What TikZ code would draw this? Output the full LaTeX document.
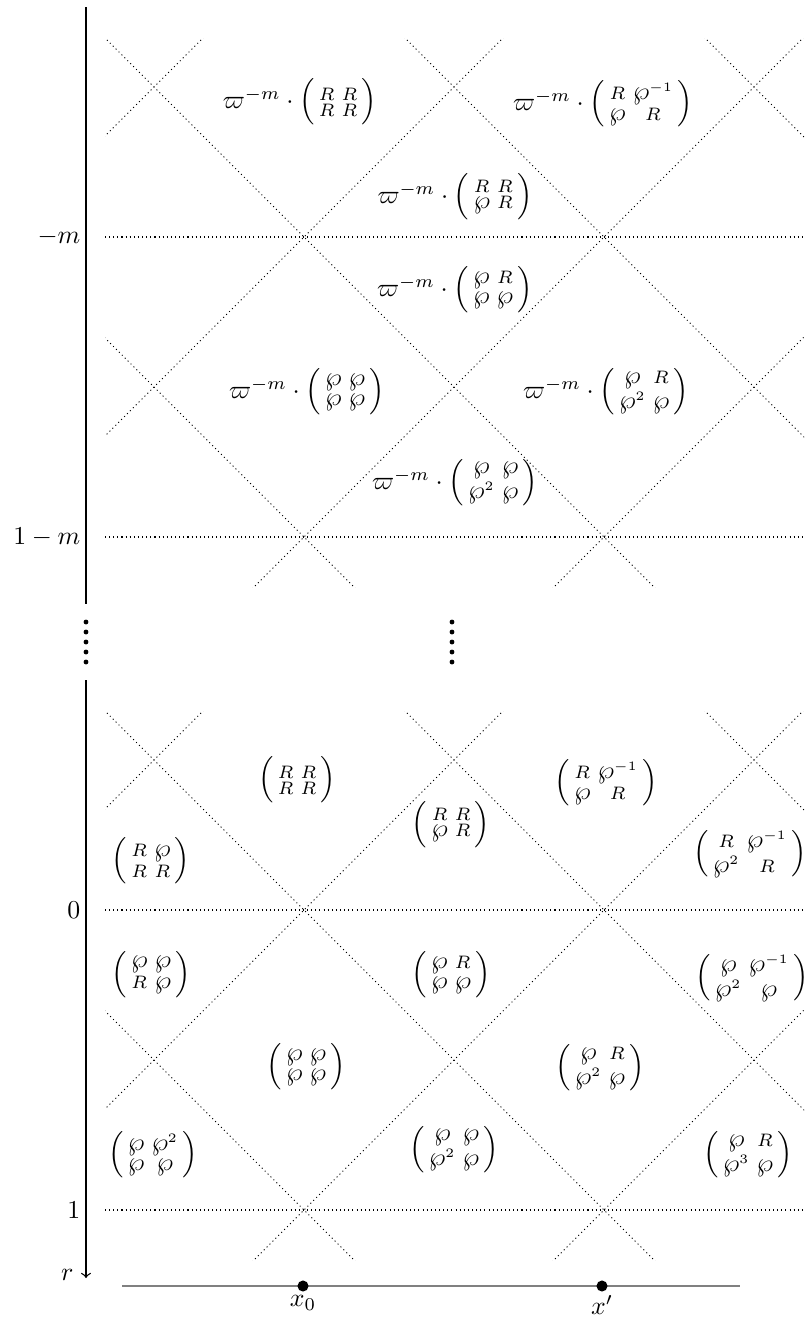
\documentclass[tikz,border=0pt]{standalone}
\usepackage{amsmath,amssymb}
\newcommand{\MyMat}[1]{\Bigl(\begin{smallmatrix}#1\end{smallmatrix}\Bigr)}
\newcommand{\Wp}{{\textstyle\wp}}
\newcommand{\Wpi}{\Wp^{-1}}
\newcommand{\Wpb}{\Wp^{2}}
\newcommand{\Wpc}{\Wp^{3}}
\begin{document}
\begin{tikzpicture}[x=0.388pt,y=-0.388pt,
  gridline/.style={line width=0.4pt, dash pattern=on 0.4pt off 1.2pt},
  axisline/.style={line width=0.5pt},
  axislabel/.style={anchor=east, inner sep=2pt},
  matlabel/.style={inner sep=0pt},
  bigdot/.style={circle, fill=black, inner sep=0pt, minimum size=4.3pt},
  smalldot/.style={circle, fill=black, inner sep=0pt, minimum size=1.9pt},
  baseline/.style={draw=gray, line width=0.8pt}]
\useasboundingbox (0,0) rectangle (804,1326);
\clip (0,0) rectangle (804,1326);

% horizontal dotted levels
\foreach \yy in {237,537,910,1210}
  \draw[gridline] (105,\yy) -- (805,\yy);

% diagonal lines, top and bottom parts
\foreach \sh in {0,673}{
  \begin{scope}[shift={(0,\sh)}]
    \clip (105,38) rectangle (805,587);
    \foreach \c in {-233,67,367,667}
      \draw[gridline] (\c-100,-100) -- (\c+1000,1000);
    \foreach \c in {241,541,841,1141}
      \draw[gridline] (\c+100,-100) -- (\c-1000,1000);
  \end{scope}
}

% axis
\coordinate (axtop) at (86,7);
\coordinate (axmid1) at (86,604);
\coordinate (axmid2) at (86,680);
\coordinate (axbot) at (86,1278);
\draw[axisline] (axtop) -- (axmid1);
\draw[axisline,->] (axmid2) -- (axbot);

\node[axislabel] (lm) at (86,237) {$-m$};
\node[axislabel] (l1m) at (86,537) {$1-m$};
\node[axislabel] (l0) at (86,910) {$0$};
\node[axislabel] (l1) at (86,1210) {$1$};
\node[anchor=east, inner sep=0pt] (lr) at (74,1275) {$r$};

% vertical ellipsis dots
\foreach \i in {0,...,4}{
  \node[smalldot] (da\i) at (86,622+10*\i) {};
  \node[smalldot] (db\i) at (452,622+10*\i) {};
}

% top part
\node[matlabel] (a1) at (300,102) {$\varpi^{-m}\cdot\MyMat{R & R\\ R & R}$};
\node[matlabel] (a2) at (603,104) {$\varpi^{-m}\cdot\MyMat{R & \Wpi\\ \Wp & R}$};
\node[matlabel] (a3) at (455,197) {$\varpi^{-m}\cdot\MyMat{R & R\\ \Wp & R}$};
\node[matlabel] (a4) at (455,290) {$\varpi^{-m}\cdot\MyMat{\Wp & R\\ \Wp & \Wp}$};
\node[matlabel] (a5) at (307,392) {$\varpi^{-m}\cdot\MyMat{\Wp & \Wp\\ \Wp & \Wp}$};
\node[matlabel] (a6) at (606,392) {$\varpi^{-m}\cdot\MyMat{\Wp & R\\ \Wpb & \Wp}$};
\node[matlabel] (a7) at (455,483) {$\varpi^{-m}\cdot\MyMat{\Wp & \Wp\\ \Wpb & \Wp}$};

% bottom part
\node[matlabel] (b1) at (297,780) {$\MyMat{R & R\\ R & R}$};
\node[matlabel] (b2) at (606,783) {$\MyMat{R & \Wpi\\ \Wp & R}$};
\node[matlabel] (b3) at (151,861) {$\MyMat{R & \Wp\\ R & R}$};
\node[matlabel] (b4) at (451,825) {$\MyMat{R & R\\ \Wp & R}$};
\node[matlabel] (b5) at (750,854) {$\MyMat{R & \Wpi\\ \Wpb & R}$};
\node[matlabel] (b6) at (151,975) {$\MyMat{\Wp & \Wp\\ R & \Wp}$};
\node[matlabel] (b7) at (451,975) {$\MyMat{\Wp & R\\ \Wp & \Wp}$};
\node[matlabel] (b8) at (752,978) {$\MyMat{\Wp & \Wpi\\ \Wpb & \Wp}$};
\node[matlabel] (b9) at (306,1067) {$\MyMat{\Wp & \Wp\\ \Wp & \Wp}$};
\node[matlabel] (b10) at (600,1068) {$\MyMat{\Wp & R\\ \Wpb & \Wp}$};
\node[matlabel] (b11) at (153,1155) {$\MyMat{\Wp & \Wpb\\ \Wp & \Wp}$};
\node[matlabel] (b12) at (454,1150) {$\MyMat{\Wp & \Wp\\ \Wpb & \Wp}$};
\node[matlabel] (b13) at (748,1155) {$\MyMat{\Wp & R\\ \Wpc & \Wp}$};

% base line with points
\coordinate (bl) at (122,1286);
\coordinate (br) at (740,1286);
\draw[baseline] (bl) -- (br);
\node[bigdot] (x0) at (303,1286) {};
\node[bigdot] (xp) at (602,1286) {};
\node[below] (lx0) at (303,1286) {$x_0$};
\node[below] (lxp) at (602,1286) {$x'$};
\end{tikzpicture}
\end{document}
